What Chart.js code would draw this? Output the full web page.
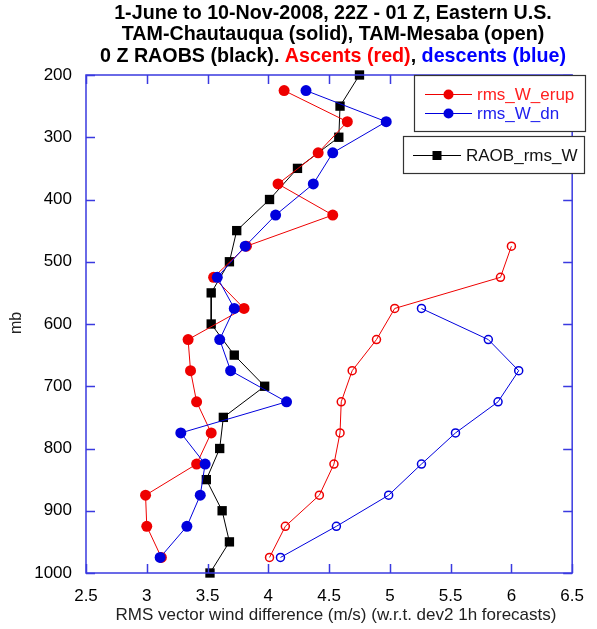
<!DOCTYPE html>
<html>
<head>
<meta charset="utf-8">
<script src="https://cdn.jsdelivr.net/npm/chart.js@4.4.1/dist/chart.umd.min.js"></script>
<style>
  html, body { margin: 0; padding: 0; background: #fff; }
  canvas { display: block; }
</style>
</head>
<body>
<canvas id="chart" width="597" height="629"></canvas>
<script>
// pressure levels (mb)
const raobLevels = [200, 250, 300, 350, 400, 450, 500, 550, 600, 650, 700, 750, 800, 850, 900, 950, 1000];
const chautLevels = [225, 275, 325, 375, 425, 475, 525, 575, 625, 675, 725, 775, 825, 875, 925, 975];
const mesabaUpLevels = [475, 525, 575, 625, 675, 725, 775, 825, 875, 925, 975];
const mesabaDnLevels = [575, 625, 675, 725, 775, 825, 875, 925, 975];

// RMS vector wind difference (m/s)
const raobRms = [4.75, 4.59, 4.58, 4.24, 4.01, 3.74, 3.68, 3.53, 3.53, 3.72, 3.97, 3.63, 3.60, 3.49, 3.62, 3.68, 3.52];
const chautErup = [4.13, 4.65, 4.41, 4.08, 4.53, 3.82, 3.55, 3.80, 3.34, 3.36, 3.41, 3.53, 3.41, 2.99, 3.00, 3.12];
const chautDn = [4.31, 4.97, 4.53, 4.37, 4.06, 3.81, 3.58, 3.72, 3.60, 3.69, 4.15, 3.28, 3.48, 3.44, 3.33, 3.11];
const mesabaErup = [6.00, 5.91, 5.04, 4.89, 4.69, 4.60, 4.59, 4.54, 4.42, 4.14, 4.01];
const mesabaDn = [5.26, 5.81, 6.06, 5.89, 5.54, 5.26, 4.99, 4.56, 4.10];

const xTicks = [2.5, 3, 3.5, 4, 4.5, 5, 5.5, 6, 6.5];
const yTicks = [200, 300, 400, 500, 600, 700, 800, 900, 1000];

const titleLines = [
  [["1-June to 10-Nov-2008, 22Z - 01 Z, Eastern U.S.", "#000"]],
  [["TAM-Chautauqua (solid), TAM-Mesaba (open)", "#000"]],
  [["0 Z RAOBS (black). ", "#000"], ["Ascents (red)", "#ff0000"], [", ", "#000"], ["descents (blue)", "#0000ff"]]
];
const xTitle = "RMS vector wind difference (m/s) (w.r.t. dev2 1h forecasts)";
const yTitle = "mb";

const RED = "#ee0000";
const BLUE = "#0000dd";
const AXIS = "#3a3ae0";
const FONT = "'Liberation Sans', Arial, sans-serif";

const pairs = (xs, ps) => xs.map((v, i) => ({x: v, y: ps[i]}));

const decorations = {
  id: "decorations",
  afterDraw(chart) {
    const ctx = chart.ctx;
    const a = chart.chartArea;
    const xs = chart.scales.x, ys = chart.scales.y;
    ctx.save();

    // frame
    ctx.strokeStyle = AXIS;
    ctx.lineWidth = 1.5;
    ctx.strokeRect(a.left, a.top, a.right - a.left, a.bottom - a.top);
    // inward ticks on all sides
    const tl = 9;
    ctx.beginPath();
    xTicks.forEach(v => {
      const px = Math.round(xs.getPixelForValue(v)) + 0.5;
      ctx.moveTo(px, a.bottom); ctx.lineTo(px, a.bottom - tl);
      ctx.moveTo(px, a.top); ctx.lineTo(px, a.top + tl);
    });
    yTicks.forEach(v => {
      const py = Math.round(ys.getPixelForValue(v)) + 0.5;
      ctx.moveTo(a.left, py); ctx.lineTo(a.left + tl, py);
      ctx.moveTo(a.right, py); ctx.lineTo(a.right - tl, py);
    });
    ctx.stroke();

    // title
    ctx.font = "bold 19.7px " + FONT;
    ctx.textBaseline = "middle";
    ctx.textAlign = "left";
    const cx = 333;
    [14, 35, 57].forEach((y, li) => {
      const segs = titleLines[li];
      const w = segs.reduce((s, sg) => s + ctx.measureText(sg[0]).width, 0);
      let x = cx - w / 2;
      segs.forEach(sg => {
        ctx.fillStyle = sg[1];
        ctx.fillText(sg[0], x, y);
        x += ctx.measureText(sg[0]).width;
      });
    });

    // axis titles
    ctx.fillStyle = "#222";
    ctx.font = "17px " + FONT;
    ctx.textAlign = "center";
    ctx.fillText(xTitle, 336, 615);
    ctx.save();
    ctx.translate(17, 323);
    ctx.rotate(-Math.PI / 2);
    ctx.font = "16px " + FONT;
    ctx.fillText(yTitle, 0, 0);
    ctx.restore();

    // legend boxes
    const box = (x, y, w, h) => {
      ctx.fillStyle = "#fff";
      ctx.fillRect(x, y, w, h);
      ctx.strokeStyle = "#333";
      ctx.lineWidth = 1.2;
      ctx.strokeRect(x + 0.5, y + 0.5, w, h);
    };
    const entry = (x1, x2, y, color, style, text, tcol) => {
      ctx.strokeStyle = color;
      ctx.lineWidth = 1;
      ctx.beginPath();
      ctx.moveTo(x1, y + 0.5); ctx.lineTo(x2, y + 0.5);
      ctx.stroke();
      ctx.fillStyle = color;
      const mx = (x1 + x2) / 2;
      if (style === "rect") {
        ctx.fillRect(mx - 4.5, y - 4, 9, 9);
      } else {
        ctx.beginPath();
        ctx.arc(mx, y + 0.5, 5, 0, Math.PI * 2);
        ctx.fill();
      }
      ctx.fillStyle = tcol;
      ctx.font = "17px " + FONT;
      ctx.textAlign = "left";
      ctx.textBaseline = "middle";
      ctx.fillText(text, x2 + 5, y + 1);
    };
    box(414, 75, 171, 56);
    entry(425, 472, 94, RED, "circle", chart.data.datasets[1].label, "#ff2020");
    entry(425, 472, 113, BLUE, "circle", chart.data.datasets[0].label, "#2020ee");
    box(403, 136, 181, 37);
    entry(413, 461, 155, "#000", "rect", chart.data.datasets[4].label, "#111");

    ctx.restore();
  }
};

new Chart(document.getElementById("chart"), {
  type: "scatter",
  data: {
    datasets: [
      {
        label: "rms_W_dn",
        data: pairs(chautDn, chautLevels),
        showLine: true, clip: false,
        borderColor: BLUE, backgroundColor: BLUE,
        borderWidth: 1, pointRadius: 5.5, pointBorderWidth: 0
      },
      {
        label: "rms_W_erup",
        data: pairs(chautErup, chautLevels),
        showLine: true, clip: false,
        borderColor: RED, backgroundColor: RED,
        borderWidth: 1, pointRadius: 5.5, pointBorderWidth: 0
      },
      {
        label: "rms_W_dn (Mesaba)",
        data: pairs(mesabaDn, mesabaDnLevels),
        showLine: true, clip: false,
        borderColor: BLUE, backgroundColor: "rgba(0,0,0,0)",
        borderWidth: 1, pointRadius: 4, pointBorderWidth: 1.5
      },
      {
        label: "rms_W_erup (Mesaba)",
        data: pairs(mesabaErup, mesabaUpLevels),
        showLine: true, clip: false,
        borderColor: RED, backgroundColor: "rgba(0,0,0,0)",
        borderWidth: 1, pointRadius: 4, pointBorderWidth: 1.5
      },
      {
        label: "RAOB_rms_W",
        data: pairs(raobRms, raobLevels),
        showLine: true, clip: false,
        borderColor: "#000", backgroundColor: "#000",
        borderWidth: 1, pointStyle: "rect", pointRadius: 6.6, pointBorderWidth: 0
      }
    ]
  },
  options: {
    responsive: false,
    animation: false,
    layout: { padding: { top: 75, right: 13, left: 0, bottom: 0 } },
    scales: {
      x: {
        type: "linear",
        min: 2.5, max: 6.5,
        afterBuildTicks: s => { s.ticks = xTicks.map(v => ({value: v})); },
        afterFit: s => { s.height = 56; },
        grid: { display: false, drawTicks: false },
        border: { display: false },
        ticks: { color: "#000", padding: 13, font: { size: 17, family: FONT }, callback: v => String(v) }
      },
      y: {
        type: "linear",
        reverse: true,
        min: 200, max: 1000,
        afterBuildTicks: s => { s.ticks = yTicks.map(v => ({value: v})); },
        afterFit: s => { s.width = 86; },
        grid: { display: false, drawTicks: false },
        border: { display: false },
        ticks: { color: "#000", padding: 14, font: { size: 17, family: FONT }, callback: v => String(v) }
      }
    },
    plugins: {
      legend: { display: false },
      tooltip: { enabled: false }
    }
  },
  plugins: [decorations]
});
</script>
</body>
</html>
